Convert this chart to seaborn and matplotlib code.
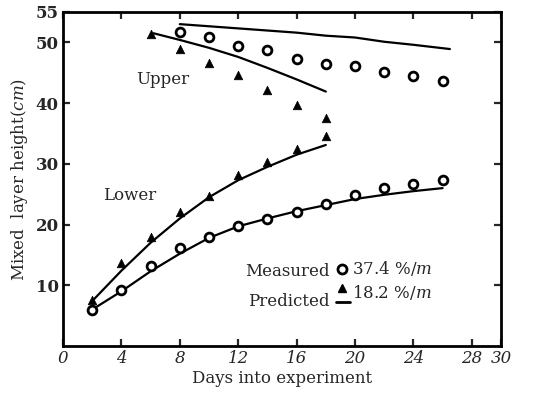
import numpy as np
import pandas as pd
import matplotlib
matplotlib.use("Agg")
import matplotlib.pyplot as plt
import seaborn as sns

# ---- data ----
up_c_days = [8, 10, 12, 14, 16, 18, 20, 22, 24, 26]
up_c_meas = [51.7, 50.9, 49.4, 48.8, 47.3, 46.4, 46.1, 45.1, 44.4, 43.6]
up_c_pred_days = [8, 12, 16, 18, 20, 22, 24, 26.5]
up_c_pred = [53.0, 52.3, 51.6, 51.1, 50.8, 50.1, 49.6, 48.9]

up_t_days = [6, 8, 10, 12, 14, 16, 18]
up_t_meas = [51.3, 48.9, 46.6, 44.6, 42.1, 39.7, 37.6]
up_t_pred_days = [6.2, 8, 10, 12, 14, 16, 18]
up_t_pred = [51.5, 50.4, 49.1, 47.6, 45.8, 43.9, 41.9]

lo_t_days = [2, 4, 6, 8, 10, 12, 14, 16, 18]
lo_t_meas = [7.5, 13.7, 18.0, 22.1, 24.7, 28.2, 30.3, 32.5, 34.5]
lo_t_pred_days = [2, 4, 6, 8, 10, 12, 14, 16, 18]
lo_t_pred = [7.4, 12.4, 17.0, 21.0, 24.5, 27.3, 29.5, 31.5, 33.1]

lo_c_days = [2, 4, 6, 8, 10, 12, 14, 16, 18, 20, 22, 24, 26]
lo_c_meas = [5.9, 9.3, 13.1, 16.2, 18.0, 19.8, 20.9, 22.1, 23.4, 24.9, 26.1, 26.7, 27.3]
lo_c_pred = [6.0, 9.0, 12.3, 15.2, 17.8, 19.7, 21.0, 22.2, 23.2, 24.2, 24.9, 25.5, 26.0]

x_ticks = [0, 4, 8, 12, 16, 20, 24, 28, 30]
y_ticks = [10, 20, 30, 40, 50, 55]

sns.set_style("ticks")
plt.rcParams["font.family"] = ["DejaVu Serif"]
plt.rcParams["mathtext.fontset"] = "dejavuserif"

fig = plt.figure(figsize=(5.47, 3.94), dpi=100)
ax = fig.add_axes([63/547, 1-346/394, (501-63)/547, (346-12)/394])

def meas_df(d, v):
    return pd.DataFrame({"day": d, "h": v})

# predicted lines
for d, v in [(up_c_pred_days, up_c_pred), (up_t_pred_days, up_t_pred),
             (lo_t_pred_days, lo_t_pred), (lo_c_days, lo_c_pred)]:
    sns.lineplot(data=meas_df(d, v), x="day", y="h", ax=ax, color="black",
                 lw=1.6, sort=False)

# measured circles
for d, v in [(up_c_days, up_c_meas), (lo_c_days, lo_c_meas)]:
    sns.scatterplot(data=meas_df(d, v), x="day", y="h", ax=ax, marker="o",
                    s=40, facecolor="white", edgecolor="black", linewidth=2,
                    zorder=5)
# measured triangles
for d, v in [(up_t_days, up_t_meas), (lo_t_days, lo_t_meas)]:
    sns.scatterplot(data=meas_df(d, v), x="day", y="h", ax=ax, marker="^",
                    s=38, color="black", edgecolor="black", linewidth=0.5,
                    zorder=5)

ax.set_xlim(0, 30)
ax.set_ylim(0, 55)
ax.set_xticks(x_ticks)
ax.set_xticklabels([str(t) for t in x_ticks], fontstyle="italic", fontsize=12)
ax.set_yticks(y_ticks)
ax.set_yticklabels([str(t) for t in y_ticks], fontweight="bold", fontsize=12)
ax.tick_params(direction="in", top=True, right=True, length=5, width=1.6,
               labeltop=False, labelright=False, pad=3)
for s in ax.spines.values():
    s.set_linewidth(2)
    s.set_color("black")

ax.set_xlabel("Days into experiment", fontsize=12, labelpad=2)
ax.set_ylabel(r"Mixed  layer height($\mathit{cm}$)", fontsize=12, labelpad=4)

ax.text(6.8, 43.9, "Upper", fontsize=12, ha="center", va="center")
ax.text(4.6, 24.8, "Lower", fontsize=12, ha="center", va="center")

# legend text
tr = ax.transAxes
def ax_xy(px, py):
    return ((px - 63) / (501 - 63), (346 - py) / (346 - 12))
ax.text(*ax_xy(330, 271), "Measured", transform=tr, ha="right", va="center", fontsize=12)
ax.text(*ax_xy(330, 301), "Predicted", transform=tr, ha="right", va="center", fontsize=12)
ax.text(*ax_xy(352, 269), r"37.4 %/$\mathit{m}$", transform=tr, ha="left", va="center", fontsize=12)
ax.text(*ax_xy(352, 292), r"18.2 %/$\mathit{m}$", transform=tr, ha="left", va="center", fontsize=12)
ax.plot(*ax_xy(342, 269), transform=tr, marker="o", ms=6.5, mfc="white",
        mec="black", mew=2, clip_on=False)
ax.plot(*ax_xy(342, 288), transform=tr, marker="^", ms=6, color="black", clip_on=False)
x0, y0 = ax_xy(336, 302)
x1, _ = ax_xy(350, 302)
ax.plot([x0, x1], [y0, y0], transform=tr, color="black", lw=2)

fig.savefig("out.png", dpi=100)
